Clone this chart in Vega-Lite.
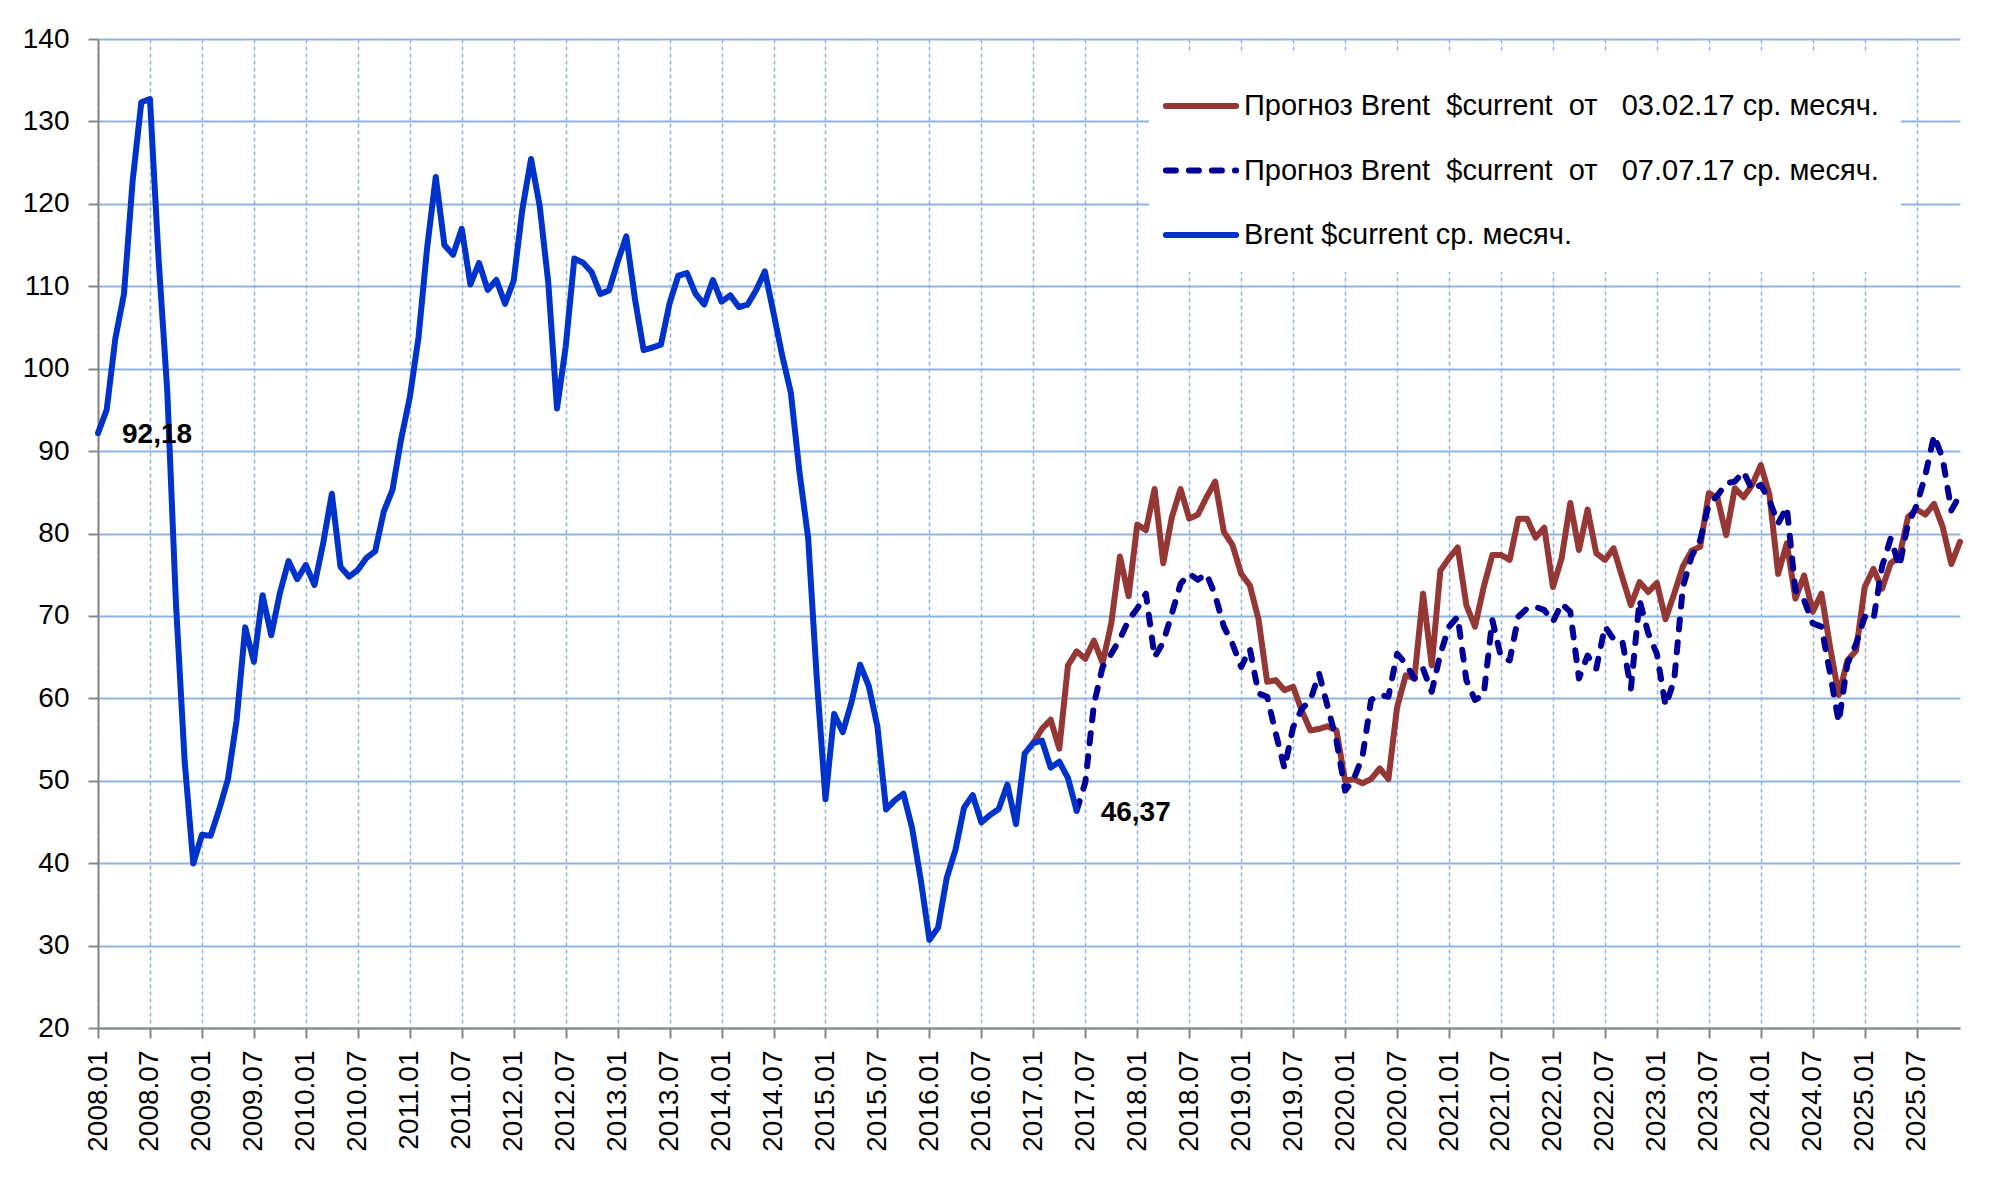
{
  "$schema": "https://vega.github.io/schema/vega-lite/v6.json",
  "width": 1862,
  "height": 989,
  "autosize": {"type": "none"},
  "padding": {"left": 98, "top": 39, "right": 44, "bottom": 167},
  "background": "white",
  "config": {"view": {"stroke": null}, "font": "Liberation Sans"},
  "datasets": {
    "d": [
      {"m":"2008.01","v":92.18,"s":"h"},{"m":"2008.02","v":94.99,"s":"h"},{"m":"2008.03","v":103.64,"s":"h"},{"m":"2008.04","v":109.07,"s":"h"},{"m":"2008.05","v":122.80,"s":"h"},{"m":"2008.06","v":132.32,"s":"h"},{"m":"2008.07","v":132.72,"s":"h"},{"m":"2008.08","v":113.24,"s":"h"},{"m":"2008.09","v":97.23,"s":"h"},{"m":"2008.10","v":71.58,"s":"h"},{"m":"2008.11","v":52.45,"s":"h"},{"m":"2008.12","v":39.95,"s":"h"},
      {"m":"2009.01","v":43.44,"s":"h"},{"m":"2009.02","v":43.32,"s":"h"},{"m":"2009.03","v":46.54,"s":"h"},{"m":"2009.04","v":50.18,"s":"h"},{"m":"2009.05","v":57.30,"s":"h"},{"m":"2009.06","v":68.61,"s":"h"},{"m":"2009.07","v":64.44,"s":"h"},{"m":"2009.08","v":72.51,"s":"h"},{"m":"2009.09","v":67.65,"s":"h"},{"m":"2009.10","v":72.77,"s":"h"},{"m":"2009.11","v":76.66,"s":"h"},{"m":"2009.12","v":74.46,"s":"h"},
      {"m":"2010.01","v":76.17,"s":"h"},{"m":"2010.02","v":73.75,"s":"h"},{"m":"2010.03","v":78.83,"s":"h"},{"m":"2010.04","v":84.82,"s":"h"},{"m":"2010.05","v":75.95,"s":"h"},{"m":"2010.06","v":74.76,"s":"h"},{"m":"2010.07","v":75.58,"s":"h"},{"m":"2010.08","v":77.04,"s":"h"},{"m":"2010.09","v":77.84,"s":"h"},{"m":"2010.10","v":82.67,"s":"h"},{"m":"2010.11","v":85.28,"s":"h"},{"m":"2010.12","v":91.45,"s":"h"},
      {"m":"2011.01","v":96.52,"s":"h"},{"m":"2011.02","v":103.72,"s":"h"},{"m":"2011.03","v":114.64,"s":"h"},{"m":"2011.04","v":123.26,"s":"h"},{"m":"2011.05","v":114.99,"s":"h"},{"m":"2011.06","v":113.83,"s":"h"},{"m":"2011.07","v":116.97,"s":"h"},{"m":"2011.08","v":110.22,"s":"h"},{"m":"2011.09","v":112.83,"s":"h"},{"m":"2011.10","v":109.55,"s":"h"},{"m":"2011.11","v":110.77,"s":"h"},{"m":"2011.12","v":107.87,"s":"h"},
      {"m":"2012.01","v":110.69,"s":"h"},{"m":"2012.02","v":119.33,"s":"h"},{"m":"2012.03","v":125.45,"s":"h"},{"m":"2012.04","v":119.75,"s":"h"},{"m":"2012.05","v":110.34,"s":"h"},{"m":"2012.06","v":95.16,"s":"h"},{"m":"2012.07","v":102.62,"s":"h"},{"m":"2012.08","v":113.36,"s":"h"},{"m":"2012.09","v":112.86,"s":"h"},{"m":"2012.10","v":111.71,"s":"h"},{"m":"2012.11","v":109.06,"s":"h"},{"m":"2012.12","v":109.49,"s":"h"},
      {"m":"2013.01","v":112.96,"s":"h"},{"m":"2013.02","v":116.05,"s":"h"},{"m":"2013.03","v":108.47,"s":"h"},{"m":"2013.04","v":102.25,"s":"h"},{"m":"2013.05","v":102.56,"s":"h"},{"m":"2013.06","v":102.92,"s":"h"},{"m":"2013.07","v":107.93,"s":"h"},{"m":"2013.08","v":111.28,"s":"h"},{"m":"2013.09","v":111.60,"s":"h"},{"m":"2013.10","v":109.08,"s":"h"},{"m":"2013.11","v":107.79,"s":"h"},{"m":"2013.12","v":110.76,"s":"h"},
      {"m":"2014.01","v":108.12,"s":"h"},{"m":"2014.02","v":108.90,"s":"h"},{"m":"2014.03","v":107.48,"s":"h"},{"m":"2014.04","v":107.76,"s":"h"},{"m":"2014.05","v":109.54,"s":"h"},{"m":"2014.06","v":111.80,"s":"h"},{"m":"2014.07","v":106.77,"s":"h"},{"m":"2014.08","v":101.61,"s":"h"},{"m":"2014.09","v":97.09,"s":"h"},{"m":"2014.10","v":87.43,"s":"h"},{"m":"2014.11","v":79.44,"s":"h"},{"m":"2014.12","v":62.34,"s":"h"},
      {"m":"2015.01","v":47.76,"s":"h"},{"m":"2015.02","v":58.10,"s":"h"},{"m":"2015.03","v":55.89,"s":"h"},{"m":"2015.04","v":59.52,"s":"h"},{"m":"2015.05","v":64.08,"s":"h"},{"m":"2015.06","v":61.48,"s":"h"},{"m":"2015.07","v":56.56,"s":"h"},{"m":"2015.08","v":46.52,"s":"h"},{"m":"2015.09","v":47.62,"s":"h"},{"m":"2015.10","v":48.43,"s":"h"},{"m":"2015.11","v":44.27,"s":"h"},{"m":"2015.12","v":38.01,"s":"h"},
      {"m":"2016.01","v":30.70,"s":"h"},{"m":"2016.02","v":32.18,"s":"h"},{"m":"2016.03","v":38.21,"s":"h"},{"m":"2016.04","v":41.58,"s":"h"},{"m":"2016.05","v":46.74,"s":"h"},{"m":"2016.06","v":48.25,"s":"h"},{"m":"2016.07","v":44.95,"s":"h"},{"m":"2016.08","v":45.84,"s":"h"},{"m":"2016.09","v":46.57,"s":"h"},{"m":"2016.10","v":49.52,"s":"h"},{"m":"2016.11","v":44.73,"s":"h"},{"m":"2016.12","v":53.31,"s":"h"},
      {"m":"2017.01","v":54.58,"s":"h"},{"m":"2017.02","v":54.87,"s":"h"},{"m":"2017.03","v":51.59,"s":"h"},{"m":"2017.04","v":52.31,"s":"h"},{"m":"2017.05","v":50.33,"s":"h"},{"m":"2017.06","v":46.37,"s":"h"},

      {"m":"2017.01","v":54.6,"s":"f1"},{"m":"2017.02","v":56.3,"s":"f1"},{"m":"2017.03","v":57.4,"s":"f1"},{"m":"2017.04","v":53.9,"s":"f1"},{"m":"2017.05","v":64.0,"s":"f1"},{"m":"2017.06","v":65.7,"s":"f1"},{"m":"2017.07","v":64.8,"s":"f1"},{"m":"2017.08","v":67.0,"s":"f1"},{"m":"2017.09","v":64.3,"s":"f1"},{"m":"2017.10","v":69.1,"s":"f1"},{"m":"2017.11","v":77.2,"s":"f1"},{"m":"2017.12","v":72.4,"s":"f1"},
      {"m":"2018.01","v":81.1,"s":"f1"},{"m":"2018.02","v":80.4,"s":"f1"},{"m":"2018.03","v":85.4,"s":"f1"},{"m":"2018.04","v":76.4,"s":"f1"},{"m":"2018.05","v":82.0,"s":"f1"},{"m":"2018.06","v":85.4,"s":"f1"},{"m":"2018.07","v":81.8,"s":"f1"},{"m":"2018.08","v":82.3,"s":"f1"},{"m":"2018.09","v":84.4,"s":"f1"},{"m":"2018.10","v":86.3,"s":"f1"},{"m":"2018.11","v":80.2,"s":"f1"},{"m":"2018.12","v":78.6,"s":"f1"},
      {"m":"2019.01","v":75.1,"s":"f1"},{"m":"2019.02","v":73.7,"s":"f1"},{"m":"2019.03","v":69.6,"s":"f1"},{"m":"2019.04","v":62.0,"s":"f1"},{"m":"2019.05","v":62.2,"s":"f1"},{"m":"2019.06","v":61.0,"s":"f1"},{"m":"2019.07","v":61.4,"s":"f1"},{"m":"2019.08","v":58.5,"s":"f1"},{"m":"2019.09","v":56.1,"s":"f1"},{"m":"2019.10","v":56.3,"s":"f1"},{"m":"2019.11","v":56.6,"s":"f1"},{"m":"2019.12","v":56.1,"s":"f1"},
      {"m":"2020.01","v":50.0,"s":"f1"},{"m":"2020.02","v":50.2,"s":"f1"},{"m":"2020.03","v":49.7,"s":"f1"},{"m":"2020.04","v":50.2,"s":"f1"},{"m":"2020.05","v":51.5,"s":"f1"},{"m":"2020.06","v":50.2,"s":"f1"},{"m":"2020.07","v":58.9,"s":"f1"},{"m":"2020.08","v":62.8,"s":"f1"},{"m":"2020.09","v":62.4,"s":"f1"},{"m":"2020.10","v":72.7,"s":"f1"},{"m":"2020.11","v":64.0,"s":"f1"},{"m":"2020.12","v":75.5,"s":"f1"},
      {"m":"2021.01","v":77.0,"s":"f1"},{"m":"2021.02","v":78.3,"s":"f1"},{"m":"2021.03","v":71.3,"s":"f1"},{"m":"2021.04","v":68.7,"s":"f1"},{"m":"2021.05","v":73.5,"s":"f1"},{"m":"2021.06","v":77.4,"s":"f1"},{"m":"2021.07","v":77.4,"s":"f1"},{"m":"2021.08","v":76.8,"s":"f1"},{"m":"2021.09","v":81.8,"s":"f1"},{"m":"2021.10","v":81.8,"s":"f1"},{"m":"2021.11","v":79.5,"s":"f1"},{"m":"2021.12","v":80.7,"s":"f1"},
      {"m":"2022.01","v":73.5,"s":"f1"},{"m":"2022.02","v":77.0,"s":"f1"},{"m":"2022.03","v":83.7,"s":"f1"},{"m":"2022.04","v":78.0,"s":"f1"},{"m":"2022.05","v":82.9,"s":"f1"},{"m":"2022.06","v":77.6,"s":"f1"},{"m":"2022.07","v":76.8,"s":"f1"},{"m":"2022.08","v":78.2,"s":"f1"},{"m":"2022.09","v":74.7,"s":"f1"},{"m":"2022.10","v":71.3,"s":"f1"},{"m":"2022.11","v":74.1,"s":"f1"},{"m":"2022.12","v":72.9,"s":"f1"},
      {"m":"2023.01","v":74.0,"s":"f1"},{"m":"2023.02","v":69.6,"s":"f1"},{"m":"2023.03","v":72.7,"s":"f1"},{"m":"2023.04","v":76.0,"s":"f1"},{"m":"2023.05","v":77.9,"s":"f1"},{"m":"2023.06","v":78.4,"s":"f1"},{"m":"2023.07","v":84.9,"s":"f1"},{"m":"2023.08","v":84.3,"s":"f1"},{"m":"2023.09","v":79.8,"s":"f1"},{"m":"2023.10","v":85.5,"s":"f1"},{"m":"2023.11","v":84.4,"s":"f1"},{"m":"2023.12","v":85.9,"s":"f1"},
      {"m":"2024.01","v":88.3,"s":"f1"},{"m":"2024.02","v":84.7,"s":"f1"},{"m":"2024.03","v":75.1,"s":"f1"},{"m":"2024.04","v":78.8,"s":"f1"},{"m":"2024.05","v":72.1,"s":"f1"},{"m":"2024.06","v":74.9,"s":"f1"},{"m":"2024.07","v":70.5,"s":"f1"},{"m":"2024.08","v":72.7,"s":"f1"},{"m":"2024.09","v":66.2,"s":"f1"},{"m":"2024.10","v":60.4,"s":"f1"},{"m":"2024.11","v":64.6,"s":"f1"},{"m":"2024.12","v":65.8,"s":"f1"},
      {"m":"2025.01","v":73.5,"s":"f1"},{"m":"2025.02","v":75.7,"s":"f1"},{"m":"2025.03","v":73.3,"s":"f1"},{"m":"2025.04","v":76.4,"s":"f1"},{"m":"2025.05","v":77.2,"s":"f1"},{"m":"2025.06","v":82.0,"s":"f1"},{"m":"2025.07","v":82.9,"s":"f1"},{"m":"2025.08","v":82.3,"s":"f1"},{"m":"2025.09","v":83.6,"s":"f1"},{"m":"2025.10","v":80.8,"s":"f1"},{"m":"2025.11","v":76.3,"s":"f1"},{"m":"2025.12","v":79.0,"s":"f1"},

      {"m":"2017.06","v":46.37,"s":"f2"},{"m":"2017.07","v":49.8,"s":"f2"},{"m":"2017.08","v":59.3,"s":"f2"},{"m":"2017.09","v":63.8,"s":"f2"},{"m":"2017.10","v":65.4,"s":"f2"},{"m":"2017.11","v":67.2,"s":"f2"},{"m":"2017.12","v":69.5,"s":"f2"},
      {"m":"2018.01","v":70.9,"s":"f2"},{"m":"2018.02","v":72.7,"s":"f2"},{"m":"2018.03","v":65.0,"s":"f2"},{"m":"2018.04","v":66.8,"s":"f2"},{"m":"2018.05","v":70.3,"s":"f2"},{"m":"2018.06","v":73.9,"s":"f2"},{"m":"2018.07","v":75.1,"s":"f2"},{"m":"2018.08","v":74.4,"s":"f2"},{"m":"2018.09","v":75.1,"s":"f2"},{"m":"2018.10","v":72.5,"s":"f2"},{"m":"2018.11","v":68.7,"s":"f2"},{"m":"2018.12","v":66.6,"s":"f2"},
      {"m":"2019.01","v":63.8,"s":"f2"},{"m":"2019.02","v":66.0,"s":"f2"},{"m":"2019.03","v":60.6,"s":"f2"},{"m":"2019.04","v":60.2,"s":"f2"},{"m":"2019.05","v":55.7,"s":"f2"},{"m":"2019.06","v":51.5,"s":"f2"},{"m":"2019.07","v":56.5,"s":"f2"},{"m":"2019.08","v":58.7,"s":"f2"},{"m":"2019.09","v":59.8,"s":"f2"},{"m":"2019.10","v":63.0,"s":"f2"},{"m":"2019.11","v":58.9,"s":"f2"},{"m":"2019.12","v":54.9,"s":"f2"},
      {"m":"2020.01","v":48.8,"s":"f2"},{"m":"2020.02","v":50.2,"s":"f2"},{"m":"2020.03","v":52.9,"s":"f2"},{"m":"2020.04","v":59.8,"s":"f2"},{"m":"2020.05","v":60.4,"s":"f2"},{"m":"2020.06","v":60.2,"s":"f2"},{"m":"2020.07","v":65.4,"s":"f2"},{"m":"2020.08","v":64.2,"s":"f2"},{"m":"2020.09","v":62.4,"s":"f2"},{"m":"2020.10","v":63.6,"s":"f2"},{"m":"2020.11","v":60.8,"s":"f2"},{"m":"2020.12","v":65.4,"s":"f2"},
      {"m":"2021.01","v":68.7,"s":"f2"},{"m":"2021.02","v":69.9,"s":"f2"},{"m":"2021.03","v":62.2,"s":"f2"},{"m":"2021.04","v":59.8,"s":"f2"},{"m":"2021.05","v":60.4,"s":"f2"},{"m":"2021.06","v":69.5,"s":"f2"},{"m":"2021.07","v":65.0,"s":"f2"},{"m":"2021.08","v":64.6,"s":"f2"},{"m":"2021.09","v":69.9,"s":"f2"},{"m":"2021.10","v":70.9,"s":"f2"},{"m":"2021.11","v":71.1,"s":"f2"},{"m":"2021.12","v":70.7,"s":"f2"},
      {"m":"2022.01","v":69.3,"s":"f2"},{"m":"2022.02","v":71.5,"s":"f2"},{"m":"2022.03","v":70.5,"s":"f2"},{"m":"2022.04","v":62.4,"s":"f2"},{"m":"2022.05","v":65.2,"s":"f2"},{"m":"2022.06","v":63.6,"s":"f2"},{"m":"2022.07","v":68.7,"s":"f2"},{"m":"2022.08","v":67.2,"s":"f2"},{"m":"2022.09","v":67.0,"s":"f2"},{"m":"2022.10","v":61.2,"s":"f2"},{"m":"2022.11","v":71.9,"s":"f2"},{"m":"2022.12","v":67.9,"s":"f2"},
      {"m":"2023.01","v":65.4,"s":"f2"},{"m":"2023.02","v":59.1,"s":"f2"},{"m":"2023.03","v":62.2,"s":"f2"},{"m":"2023.04","v":73.5,"s":"f2"},{"m":"2023.05","v":77.2,"s":"f2"},{"m":"2023.06","v":79.2,"s":"f2"},{"m":"2023.07","v":83.6,"s":"f2"},{"m":"2023.08","v":84.6,"s":"f2"},{"m":"2023.09","v":86.1,"s":"f2"},{"m":"2023.10","v":86.3,"s":"f2"},{"m":"2023.11","v":87.5,"s":"f2"},{"m":"2023.12","v":85.3,"s":"f2"},
      {"m":"2024.01","v":85.9,"s":"f2"},{"m":"2024.02","v":84.0,"s":"f2"},{"m":"2024.03","v":81.2,"s":"f2"},{"m":"2024.04","v":83.2,"s":"f2"},{"m":"2024.05","v":73.1,"s":"f2"},{"m":"2024.06","v":71.9,"s":"f2"},{"m":"2024.07","v":69.1,"s":"f2"},{"m":"2024.08","v":68.7,"s":"f2"},{"m":"2024.09","v":63.0,"s":"f2"},{"m":"2024.10","v":57.1,"s":"f2"},{"m":"2024.11","v":64.2,"s":"f2"},{"m":"2024.12","v":66.6,"s":"f2"},
      {"m":"2025.01","v":69.9,"s":"f2"},{"m":"2025.02","v":69.5,"s":"f2"},{"m":"2025.03","v":76.0,"s":"f2"},{"m":"2025.04","v":79.4,"s":"f2"},{"m":"2025.05","v":76.0,"s":"f2"},{"m":"2025.06","v":81.2,"s":"f2"},{"m":"2025.07","v":83.4,"s":"f2"},{"m":"2025.08","v":87.1,"s":"f2"},{"m":"2025.09","v":91.9,"s":"f2"},{"m":"2025.10","v":89.1,"s":"f2"},{"m":"2025.11","v":82.8,"s":"f2"},{"m":"2025.12","v":84.7,"s":"f2"}
    ],
    "notes": [
      {"m":"2008.01","v":92.18,"t":"92,18"},
      {"m":"2017.06","v":46.37,"t":"46,37"}
    ]
  },
  "data": {"name": "d"},
  "encoding": {
    "x": {
      "field": "m", "type": "ordinal",
      "scale": {"type": "point", "padding": 0},
      "axis": {
        "title": null,
        "values": ["2008.01","2008.07","2009.01","2009.07","2010.01","2010.07","2011.01","2011.07","2012.01","2012.07","2013.01","2013.07","2014.01","2014.07","2015.01","2015.07","2016.01","2016.07","2017.01","2017.07","2018.01","2018.07","2019.01","2019.07","2020.01","2020.07","2021.01","2021.07","2022.01","2022.07","2023.01","2023.07","2024.01","2024.07","2025.01","2025.07"],
        "labelAngle": -90, "labelFont": "Liberation Sans", "labelFontSize": 28, "labelColor": "black",
        "labelPadding": 12, "labelOverlap": false,
        "tickSize": 10, "tickColor": "#868686", "tickWidth": 2,
        "domainColor": "#868686", "domainWidth": 2,
        "grid": true, "gridColor": "#8EB4E3", "gridDash": [4, 3], "gridWidth": 1.5
      }
    },
    "y": {
      "field": "v", "type": "quantitative",
      "scale": {"domain": [20, 140], "nice": false, "zero": false},
      "axis": {
        "title": null,
        "values": [20, 30, 40, 50, 60, 70, 80, 90, 100, 110, 120, 130, 140],
        "labelFont": "Liberation Sans", "labelFontSize": 28, "labelColor": "black",
        "labelPadding": 19,
        "tickSize": 10, "tickColor": "#868686", "tickWidth": 2,
        "domainColor": "#868686", "domainWidth": 2,
        "grid": true, "gridColor": "#8EB4E3", "gridWidth": 2
      }
    }
  },
  "layer": [
    {
      "transform": [{"filter": "datum.s == 'f1'"}],
      "mark": {"type": "line", "strokeWidth": 6, "strokeJoin": "round", "strokeCap": "round"},
      "encoding": {
        "color": {"field": "s", "type": "nominal",
          "scale": {"domain": ["f1", "f2", "h"], "range": ["#953735", "#000099", "#0033CC"]},
          "legend": {"title": null, "orient": "none", "legendX": 1051, "legendY": 15,
            "symbolType": "M-1.3,0H1.3", "symbolSize": 2916, "symbolStrokeWidth": 6,
            "labelFont": "Liberation Sans", "labelFontSize": 29, "labelColor": "black", "labelLimit": 0,
            "labelOffset": 13, "rowPadding": 19.5, "padding": 22, "fillColor": "white",
            "labelExpr": "datum.label == 'f1' ? 'Прогноз Brent\u00a0\u00a0$current\u00a0\u00a0от\u00a0\u00a0\u00a003.02.17 ср. месяч.' : datum.label == 'f2' ? 'Прогноз Brent\u00a0\u00a0$current\u00a0\u00a0от\u00a0\u00a0\u00a007.07.17 ср. месяч.' : 'Brent $current ср. месяч.'",
            "encode": {"symbols": {"update": {"strokeCap": {"value": "round"}}}}}},
        "strokeDash": {"field": "s", "type": "nominal",
          "scale": {"domain": ["f1", "f2", "h"], "range": [[1, 0], [10, 13], [1, 0]]},
          "legend": {"title": null, "orient": "none", "legendX": 1051, "legendY": 15,
            "symbolType": "M-1.3,0H1.3", "symbolSize": 2916, "symbolStrokeWidth": 6,
            "labelFont": "Liberation Sans", "labelFontSize": 29, "labelColor": "black", "labelLimit": 0,
            "labelOffset": 13, "rowPadding": 19.5, "padding": 22, "fillColor": "white",
            "labelExpr": "datum.label == 'f1' ? 'Прогноз Brent\u00a0\u00a0$current\u00a0\u00a0от\u00a0\u00a0\u00a003.02.17 ср. месяч.' : datum.label == 'f2' ? 'Прогноз Brent\u00a0\u00a0$current\u00a0\u00a0от\u00a0\u00a0\u00a007.07.17 ср. месяч.' : 'Brent $current ср. месяч.'",
            "encode": {"symbols": {"update": {"strokeCap": {"value": "round"}}}}}}
      }
    },
    {
      "transform": [{"filter": "datum.s == 'f2'"}],
      "mark": {"type": "line", "strokeWidth": 6, "strokeJoin": "round", "strokeCap": "round"},
      "encoding": {
        "color": {"field": "s", "type": "nominal"},
        "strokeDash": {"field": "s", "type": "nominal"}
      }
    },
    {
      "transform": [{"filter": "datum.s == 'h'"}],
      "mark": {"type": "line", "strokeWidth": 6, "strokeJoin": "round", "strokeCap": "round"},
      "encoding": {
        "color": {"field": "s", "type": "nominal"},
        "strokeDash": {"field": "s", "type": "nominal"}
      }
    },
    {
      "data": {"name": "notes"},
      "mark": {"type": "text", "align": "left", "baseline": "middle", "dx": 24, "dy": 2,
        "font": "Liberation Sans", "fontSize": 28, "fontWeight": "bold", "color": "black"},
      "encoding": {"text": {"field": "t"}}
    }
  ]
}
